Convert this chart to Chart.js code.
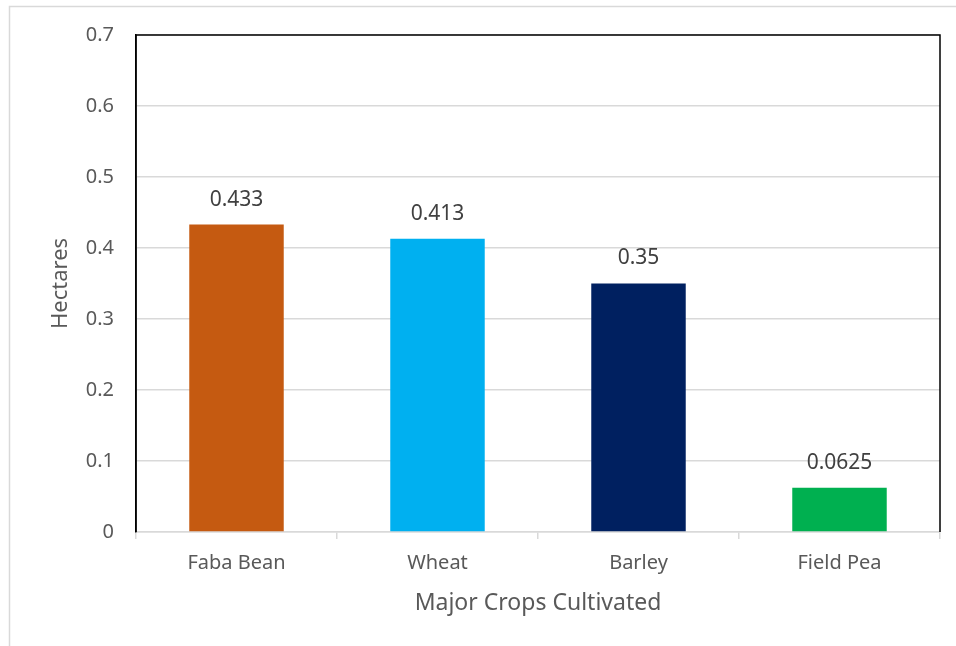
<!DOCTYPE html>
<html>
<head>
<meta charset="utf-8">
<script src="https://cdn.jsdelivr.net/npm/chart.js@4"></script>
<style>
  html, body { margin: 0; padding: 0; background: #ffffff; }
  #wrap { width: 956px; height: 646px; }
</style>
</head>
<body>
<div id="wrap"><canvas id="myChart" width="956" height="646"></canvas></div>
<script>
var crops = ['Faba Bean', 'Wheat', 'Barley', 'Field Pea'];
var hectares = [0.433, 0.413, 0.35, 0.0625];
var barColors = ['#C55A11', '#00B0F0', '#002060', '#00B050'];
var yTicks = [0, 0.1, 0.2, 0.3, 0.4, 0.5, 0.6, 0.7];

var fontFamily = "'Noto Sans', 'Liberation Sans', sans-serif";

// outer border + black frame around plot area
var framePlugin = {
    id: 'frame',
    beforeDraw: function (chart) {
        var ctx = chart.ctx;
        ctx.save();
        ctx.fillStyle = '#ffffff';
        ctx.fillRect(0, 0, chart.width, chart.height);
        ctx.strokeStyle = '#d9d9d9';
        ctx.lineWidth = 1.5;
        ctx.beginPath();
        ctx.moveTo(9.5, chart.height + 2);
        ctx.lineTo(9.5, 6.5);
        ctx.lineTo(chart.width + 2, 6.5);
        ctx.stroke();
        ctx.restore();
    },
    afterDraw: function (chart) {
        var a = chart.chartArea;
        var ctx = chart.ctx;
        ctx.save();
        ctx.strokeStyle = '#000000';
        ctx.lineWidth = 1.5;
        ctx.beginPath();
        ctx.moveTo(a.left, a.bottom);
        ctx.lineTo(a.left, a.top);
        ctx.lineTo(a.right, a.top);
        ctx.lineTo(a.right, a.bottom);
        ctx.stroke();
        ctx.restore();
    }
};

// value labels above bars
var valueLabels = {
    id: 'valueLabels',
    afterDatasetsDraw: function (chart) {
        var ctx = chart.ctx;
        var meta = chart.getDatasetMeta(0);
        ctx.save();
        ctx.fillStyle = '#404040';
        ctx.font = '21px ' + fontFamily;
        ctx.textAlign = 'center';
        ctx.textBaseline = 'middle';
        meta.data.forEach(function (bar, i) {
            ctx.fillText(String(hectares[i]), bar.x, bar.y - 25);
        });
        ctx.restore();
    }
};

var ctx = document.getElementById('myChart').getContext('2d');
var myChart = new Chart(ctx, {
    type: 'bar',
    data: {
        labels: crops,
        datasets: [{
            label: 'Hectares',
            data: hectares,
            backgroundColor: barColors,
            borderWidth: 0,
            barPercentage: 0.47,
            categoryPercentage: 1
        }]
    },
    options: {
        responsive: false,
        animation: false,
        layout: { padding: { left: 44, top: 35, right: 16, bottom: 25 } },
        plugins: {
            legend: { display: false },
            tooltip: { enabled: false }
        },
        scales: {
            x: {
                offset: true,
                grid: {
                    offset: true,
                    drawOnChartArea: false,
                    drawTicks: true,
                    tickLength: 7,
                    color: '#d9d9d9',
                    lineWidth: 1.5
                },
                border: { color: '#d9d9d9', width: 1.5 },
                ticks: {
                    color: '#595959',
                    font: { family: fontFamily, size: 20 },
                    padding: 12
                },
                title: {
                    display: true,
                    text: 'Major Crops Cultivated',
                    color: '#595959',
                    font: { family: fontFamily, size: 23 },
                    padding: { top: 4, bottom: 4 }
                },
                afterFit: function (scale) { scale.height = 89; }
            },
            y: {
                min: 0,
                max: 0.7,
                afterBuildTicks: function (scale) {
                    scale.ticks = yTicks.map(function (v) { return { value: v }; });
                },
                grid: {
                    color: '#d9d9d9',
                    lineWidth: 1.5,
                    drawTicks: false
                },
                border: { color: '#000000', width: 1.5 },
                ticks: {
                    color: '#595959',
                    font: { family: fontFamily, size: 20 },
                    padding: 22,
                    callback: function (v) { return String(v); }
                },
                title: {
                    display: true,
                    text: 'Hectares',
                    color: '#595959',
                    font: { family: fontFamily, size: 22 },
                    padding: { top: 4, bottom: 4 }
                },
                afterFit: function (scale) { scale.width = 92; }
            }
        }
    },
    plugins: [framePlugin, valueLabels]
});
</script>
</body>
</html>
